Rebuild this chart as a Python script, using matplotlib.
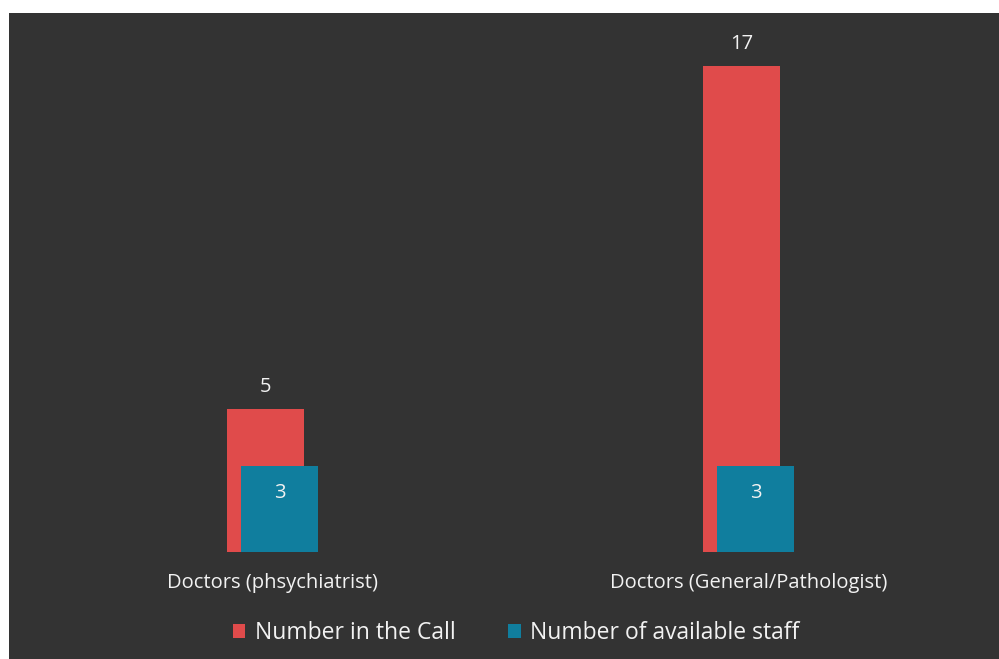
import matplotlib.pyplot as plt
from matplotlib.patches import Rectangle
import numpy as np

categories = ["Doctors (phsychiatrist)", "Doctors (General/Pathologist)"]
in_call = [5, 17]
available = [3, 3]

BG = "#333333"
RED = "#E04B4B"
TEAL = "#107E9E"
TXT = "#F2F2F2"

plt.rcParams["font.family"] = ["Open Sans", "DejaVu Sans"]

W, H = 999, 659
fig = plt.figure(figsize=(W / 100, H / 100), dpi=100)
fig.patch.set_facecolor("white")
fig.patches.append(Rectangle((9 / W, 0), 1 - 9 / W, 1 - 13 / H,
                             transform=fig.transFigure, facecolor=BG,
                             edgecolor="none", zorder=-1))

# axes placed in pixel terms: bottom at 552 px from top, 28.6 px per unit
ax = fig.add_axes([34.5 / W, 107 / H, 952 / W, 512 / H])
ax.set_facecolor("none")
x = np.arange(len(categories))
bw = 77 / 476
off = 7 / 476
b1 = ax.bar(x - off, in_call, bw, color=RED, label="Number in the Call")
b2 = ax.bar(x + off, available, bw, color=TEAL, label="Number of available staff")
ax.set_xlim(-0.5, 1.5)
ax.set_ylim(0, 512 / 28.6)

for rect, v in zip(b1, in_call):
    ax.annotate(str(v), (rect.get_x() + rect.get_width() / 2, v),
                xytext=(0, 16), textcoords="offset points",
                ha="center", va="center", color=TXT, fontsize=14.5)
for rect, v in zip(b2, available):
    ax.annotate(str(v), (rect.get_x() + rect.get_width() / 2, v),
                xytext=(0, -19.5), textcoords="offset points",
                ha="center", va="center", color=TXT, fontsize=14.5)

ax.set_xticks(x)
ax.set_xticklabels(categories, color=TXT, fontsize=14.5)
ax.tick_params(axis="x", length=0, pad=15)
ax.set_yticks([])
for s in ax.spines.values():
    s.set_visible(False)

leg = fig.legend(loc="center", bbox_to_anchor=(516 / W, 1 - 633 / H), ncol=2,
                 frameon=False, fontsize=16.5, labelcolor=TXT,
                 handlelength=0.55, handleheight=0.55, handletextpad=0.4,
                 columnspacing=2.3)

fig.savefig("out.png", dpi=100, facecolor=fig.get_facecolor())
